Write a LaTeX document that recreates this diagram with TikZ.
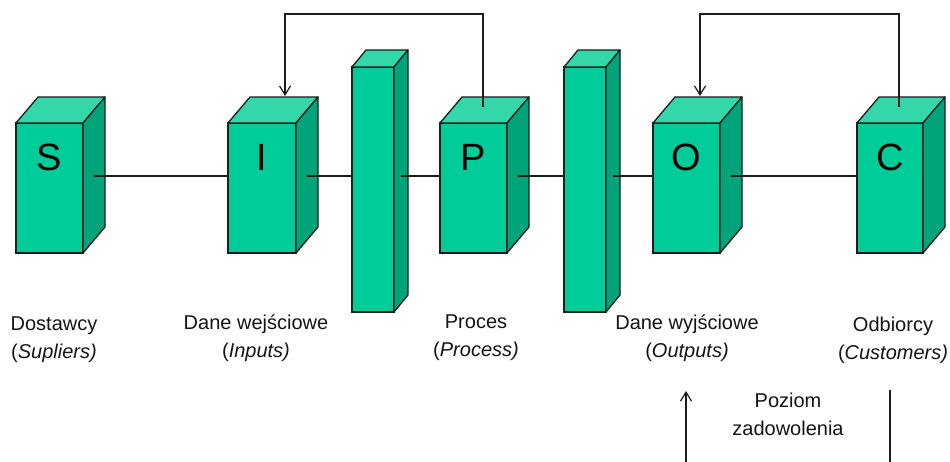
\documentclass[tikz,border=0pt]{standalone}
\usepackage{fontspec}
\setmainfont{Liberation Sans}
\usetikzlibrary{calc,arrows.meta}
\definecolor{frontc}{RGB}{0,204,153}
\definecolor{topc}{RGB}{52,215,170}
\definecolor{sidec}{RGB}{0,163,122}
\definecolor{edgec}{RGB}{25,30,28}
\definecolor{txtc}{RGB}{20,20,20}
\tikzset{
  front/.style={draw=edgec, fill=frontc, line width=1.3pt, inner sep=0pt, outer sep=0pt, rectangle},
  face/.style={draw=edgec, line width=1.3pt, line join=round},
  letter/.style={font=\fontsize{38}{40}\selectfont, text=black, inner sep=0pt},
  conn/.style={draw=edgec, line width=1.2pt},
  arr/.style={draw=edgec, line width=1.2pt, -{Straight Barb[length=9pt,width=11pt,line width=1.2pt]}},
  lbl/.style={font=\fontsize{20}{28}\selectfont, align=center, text=txtc, inner sep=0pt}
}
\newcommand\mycuboid[8]{%
  \node[front, minimum width=#4pt, minimum height=#5pt, anchor=north west] (#1) at (#2,#3) {};
  \filldraw[face, fill=topc] (#1.north west) -- ($(#1.north west)+(#6,#7)$) -- ($(#1.north east)+(#6,#7)$) -- (#1.north east) -- cycle;
  \filldraw[face, fill=sidec] (#1.north east) -- ($(#1.north east)+(#6,#7)$) -- ($(#1.south east)+(#6,#7)$) -- (#1.south east) -- cycle;
  \coordinate (#1-o) at ($(#1.east)+(#6/2,0)$);
  \node[letter] (#1-l) at ($(#1.north)+(0,34)$) {#8};
}
\begin{document}
\begin{tikzpicture}[x=1pt, y=-1pt]
\useasboundingbox[fill=white] (0,0) rectangle (950,462);
\coordinate (line) at (0,176);
\coordinate (top) at (0,14);
% boxes
\mycuboid{S}{16}{123}{67}{130}{22}{-26}{S}
\mycuboid{I}{228}{123}{68}{130}{22}{-26}{I}
\mycuboid{B1}{352}{67}{42}{245}{14}{-17}{}
\mycuboid{P}{440}{123}{67}{130}{22}{-26}{P}
\mycuboid{B2}{564}{67}{42}{245}{14}{-17}{}
\mycuboid{O}{653}{123}{67}{130}{22}{-26}{O}
\mycuboid{C}{857}{123}{66}{130}{22}{-26}{C}
% horizontal connectors
\draw[conn] (S-o |- line) -- (I.west |- line);
\draw[conn] (I-o |- line) -- (B1.west |- line);
\draw[conn] (B1-o |- line) -- (P.west |- line);
\draw[conn] (P-o |- line) -- (B2.west |- line);
\draw[conn] (B2-o |- line) -- (O.west |- line);
\draw[conn] (O-o |- line) -- (C.west |- line);
% feedback loops
\coordinate (P-t) at (483,107);
\coordinate (I-t) at (285,96);
\coordinate (C-t) at (899,107);
\coordinate (O-t) at (700,96);
\draw[arr] (P-t) -- (P-t |- top) -| (I-t);
\draw[arr] (C-t) -- (C-t |- top) -| (O-t);
% labels
\node[lbl] (lS) at (54,340) {Dostawcy\\(\textit{Supliers)}};
\node[lbl] (lI) at (256,338) {Dane wejściowe\\(\textit{Inputs)}};
\node[lbl] (lP) at (476,338) {Proces\\(\textit{Process)}};
\node[lbl] (lO) at (687,338) {Dane wyjściowe\\(\textit{Outputs)}};
\node[lbl] (lC) at (893,340) {Odbiorcy\\(\textit{Customers)}};
% satisfaction level
\coordinate (a1) at (686,462);
\coordinate (a2) at (686,391);
\coordinate (b1) at (890,390);
\coordinate (b2) at (890,462);
\draw[arr] (a1) -- (a2);
\draw[conn] (b1) -- (b2);
\node[lbl] (lz) at (788,414) {Poziom\\zadowolenia};
\end{tikzpicture}
\end{document}
